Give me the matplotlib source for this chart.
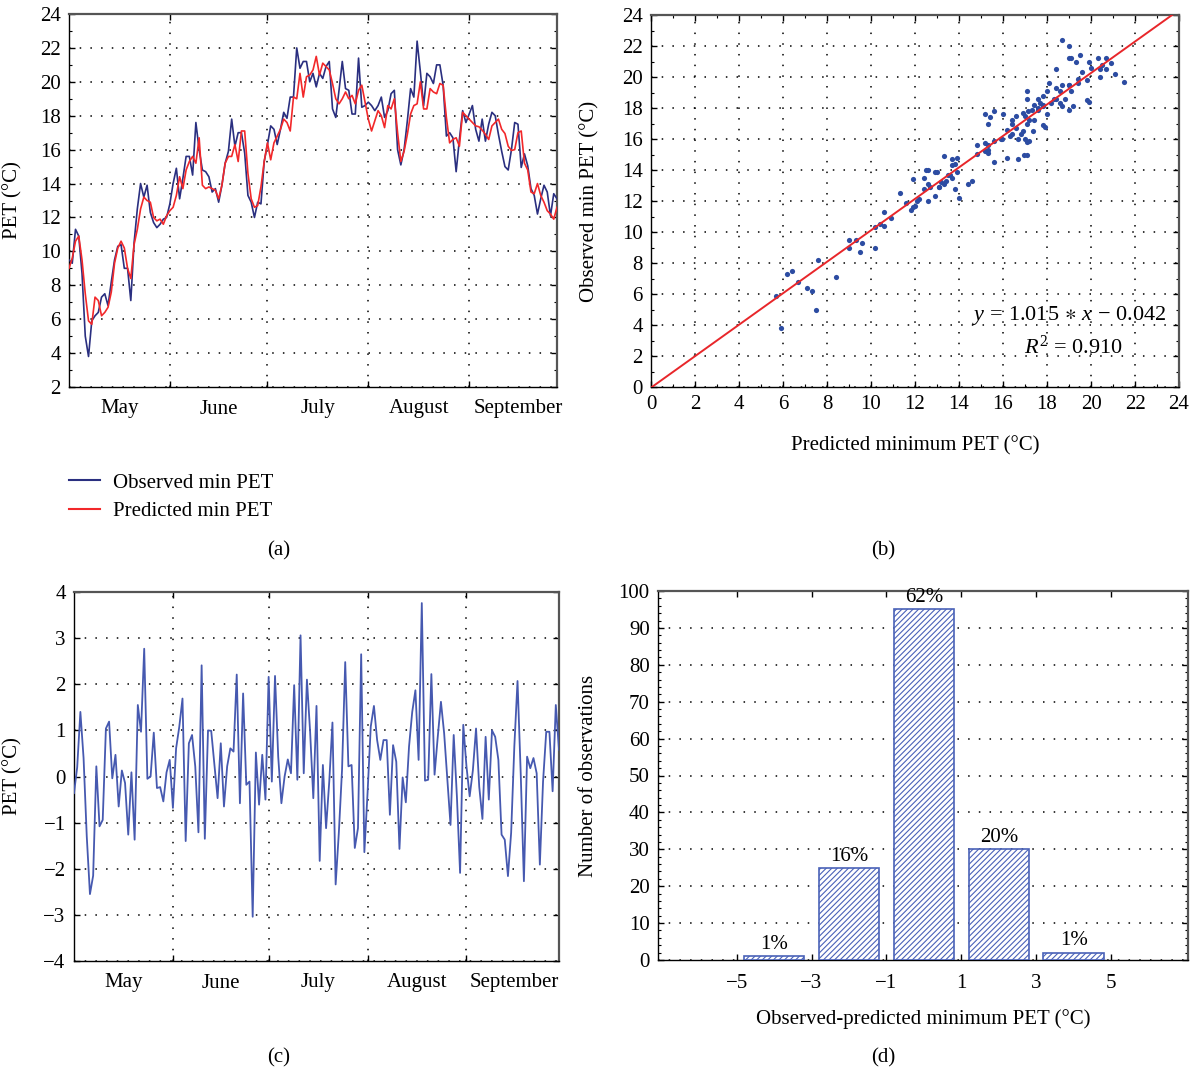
import numpy as np
import matplotlib
matplotlib.use("Agg")
import matplotlib.pyplot as plt
from matplotlib.lines import Line2D
from matplotlib.ticker import MultipleLocator, FixedLocator, NullFormatter, FixedFormatter

plt.rcParams['font.family'] = ['Liberation Serif', 'DejaVu Serif']
plt.rcParams['mathtext.fontset'] = 'custom'
plt.rcParams['mathtext.rm'] = 'Liberation Serif'
plt.rcParams['mathtext.it'] = 'Liberation Serif:italic'
plt.rcParams['mathtext.fallback'] = 'stix'
plt.rcParams['font.size'] = 15
plt.rcParams['hatch.linewidth'] = 0.8

# ---------------- data ----------------
months = ["May", "June", "July", "August", "September"]
month_starts = [0, 31, 61, 92, 123, 153]

observed = [9.5, 9.3, 11.3, 10.9, 8.7, 5.0, 3.8, 5.9, 6.2, 6.4,
            7.3, 7.5, 6.8, 8.2, 9.5, 10.3, 10.4, 9.0, 9.0, 7.1,
            10.5, 12.5, 14.0, 13.2, 13.9, 12.3, 11.7, 11.4, 11.6, 11.9,
            12.0, 12.8, 14.0, 14.9, 13.1, 14.3, 15.6, 15.6, 14.5, 17.6,
            16.0, 14.8, 14.7, 14.4, 13.5, 13.7, 12.9, 13.9, 15.2, 15.9,
            17.8, 16.2, 17.0, 17.0, 15.8, 13.3, 12.9, 12.0, 12.9, 12.8,
            15.3, 16.3, 17.4, 17.2, 16.3, 17.2, 18.2, 17.85, 19.1, 19.1,
            22.0, 20.8, 21.2, 21.2, 20.0, 20.5, 19.7, 20.5, 20.2, 20.9,
            21.2, 18.4, 17.9, 19.5, 21.2, 19.6, 19.5, 18.1, 18.1, 21.4,
            18.5, 18.6, 18.8, 18.6, 18.3, 18.6, 19.1, 17.9, 18.3, 19.3,
            19.5, 16.0, 15.1, 16.0, 17.7, 19.6, 19.1, 22.4, 20.6, 18.6,
            20.5, 20.3, 19.9, 21.0, 21.0, 19.8, 16.8, 17.0, 16.7, 14.7,
            16.6, 18.3, 17.6, 18.1, 18.6, 17.2, 16.5, 17.8, 16.5, 17.5,
            18.2, 18.0, 16.9, 15.9, 15.0, 14.8, 16.0, 17.6, 17.5, 14.95,
            15.75, 15.05, 13.7, 13.3, 12.2, 13.1, 13.9, 13.5, 12.1, 13.4,
            13.1]

predicted = [9.0, 9.6, 10.6, 10.9, 9.5, 7.5, 5.9, 5.7, 7.3, 7.1,
             6.2, 6.4, 6.7, 7.6, 9.3, 10.2, 10.6, 10.2, 9.0, 8.4,
             10.4, 11.3, 12.5, 13.2, 13.0, 12.9, 12.0, 11.8, 11.9, 11.6,
             12.1, 12.4, 12.6, 13.3, 14.4, 13.7, 14.8, 15.3, 15.6, 15.2,
             16.7, 13.9, 13.7, 13.8, 13.7, 13.6, 13.1, 13.9, 15.2, 15.6,
             15.6, 16.3, 15.3, 17.1, 17.1, 14.6, 13.1, 12.6, 12.7, 13.8,
             15.3, 16.4, 15.4, 16.4, 16.8, 17.2, 17.8, 17.6, 17.1, 19.1,
             19.0, 20.5, 19.1, 20.3, 20.4, 20.7, 21.5, 20.4, 21.1, 20.9,
             20.7, 19.9, 19.0, 18.7, 19.0, 19.4, 19.0, 19.2, 18.7, 19.5,
             19.8, 18.8, 17.8, 17.1, 17.7, 18.3, 18.0, 17.3, 18.6, 18.4,
             19.0, 17.0, 15.3, 15.9, 16.9, 18.1, 18.6, 18.7, 20.0, 18.4,
             18.4, 19.6, 19.4, 19.3, 19.9, 19.8, 17.9, 16.4, 16.6, 16.7,
             16.2, 18.2, 18.0, 17.8, 17.6, 17.4, 17.35, 17.15, 16.9, 16.6,
             17.4, 17.6, 17.8, 17.2, 16.95, 16.2, 15.95, 16.0, 17.0, 17.1,
             15.2, 14.8, 13.5, 13.4, 14.0, 13.3, 12.9, 12.4, 12.2, 11.9,
             12.6]

residual = [-0.36, 0.2, 1.4, 0.4, -1.3, -2.55, -2.15, 0.22, -1.08, -0.94,
            1.04, 1.19, -0.04, 0.47, -0.65, 0.13, -0.14, -1.26, 0.09, -1.37,
            1.55, 0.97, 2.77, -0.05, 0.0, 0.95, -0.25, -0.23, -0.54, 0.09,
            0.36, -0.68, 0.61, 1.08, 1.69, -1.4, 0.72, 0.9, 0.22, -1.21,
            2.41, -1.35, 1.0, 0.99, 0.25, -0.47, 0.72, -0.65, 0.22, 0.61,
            0.54, 2.21, -0.58, 1.8, -0.18, -0.11, -3.04, 0.52, -0.61, 0.47,
            -0.5, 2.16, -0.11, 2.18, 0.43, -0.58, 0.0, 0.37, 0.07, 1.98,
            -0.07, 3.06, 0.07, 2.1, 0.97, -0.47, 1.53, -1.83, 0.25, -1.12,
            -0.11, 1.17, -2.34, -1.22, 0.14, 2.48, 0.22, 0.25, -1.55, -1.12,
            2.65, -1.64, -0.36, 1.08, 1.53, 0.79, 0.36, 0.79, 0.79, -0.83,
            0.68, 0.32, -1.57, -0.02, -0.56, 0.65, 1.4, 1.87, 0.36, 3.76,
            -0.09, -0.07, 2.22, 0.04, 0.86, 1.62, 0.94, -0.07, -1.05, 0.9,
            -0.43, -2.09, 1.12, 0.22, -0.43, 0.13, 1.04, -0.22, -0.92, 0.86,
            -0.5, 1.0, 0.86, 0.36, -1.26, -1.37, -2.16, -1.22, 0.65, 2.07,
            0.07, -2.27, 0.43, 0.18, 0.4, 0.07, -1.91, -0.11, 0.97, 0.97,
            -0.32, 1.55, 0.58]

fit_slope = 1.015
fit_intercept = -0.042
fit_r2 = 0.910

bin_centers = [-4, -2, 0, 2, 4]
bin_counts = [1, 25, 95, 30, 2]
bin_pct = ["1%", "16%", "62%", "20%", "1%"]

# ---------------- styles ----------------
C_OBS = '#2a2f80'
C_PRED = '#f2282a'
C_RES = '#4659b0'
C_DOT = '#2c4ca2'
C_BAR = '#4a62b8'
GRID = dict(color='black', linestyle=(0, (1, 6)), linewidth=1.1)

W, H = 1198, 1072
fig = plt.figure(figsize=(W / 100, H / 100), dpi=100)


def style_spines(ax):
    for s in ['left', 'bottom']:
        ax.spines[s].set_color('black')
        ax.spines[s].set_linewidth(1.0)
    for s in ['top', 'right']:
        ax.spines[s].set_color('#555555')
        ax.spines[s].set_linewidth(1.6)
    ax.tick_params(which='both', direction='in', top=True, right=True)
    ax.tick_params(which='major', length=4, width=1.0, pad=6)
    ax.tick_params(which='minor', length=2.5, width=0.8)


def month_axis(ax, xmax):
    ax.set_xlim(0, xmax)
    ax.xaxis.set_major_locator(FixedLocator(month_starts[1:5]))
    ax.xaxis.set_major_formatter(NullFormatter())
    mids = [(month_starts[i] + month_starts[i + 1]) / 2 for i in range(5)]
    ax.xaxis.set_minor_locator(FixedLocator(mids))
    ax.xaxis.set_minor_formatter(FixedFormatter(months))
    ax.tick_params(axis='x', which='minor', length=0, pad=9)
    ax.tick_params(axis='y', which='minor', length=2.5)


# ---------------- (a) ----------------
axa = fig.add_axes([69 / W, 1 - 387 / H, 488 / W, 373 / H])
days = np.arange(len(observed))
axa.plot(days, observed, color=C_OBS, lw=1.2, zorder=3)
axa.plot(days, predicted, color=C_PRED, lw=1.2, zorder=3)
style_spines(axa)
month_axis(axa, 150)
axa.set_ylim(2, 24)
axa.yaxis.set_major_locator(MultipleLocator(2))
axa.yaxis.set_minor_locator(MultipleLocator(1))
axa.grid(True, which='major', **GRID)
axa.set_ylabel('PET (°C)')
axa.yaxis.set_label_coords(-0.096, 0.5)

handles = [Line2D([], [], color=C_OBS, lw=1.5), Line2D([], [], color=C_PRED, lw=1.5)]
fig.legend(handles, ['Observed min PET', 'Predicted min PET'], loc='upper left',
           bbox_to_anchor=(69 / W, 1 - 473 / H), frameon=False, handlelength=1.5,
           handletextpad=0.6, labelspacing=0.42, borderpad=0, borderaxespad=0)

# ---------------- (b) ----------------
axb = fig.add_axes([651 / W, 1 - 387 / H, 528 / W, 372 / H])
axb.scatter(predicted, observed, s=14, color=C_DOT, linewidths=0, zorder=3)
xx = np.array([0, 24])
axb.plot(xx, fit_slope * xx + fit_intercept, color='#e8262a', lw=1.4, zorder=4)
style_spines(axb)
axb.set_xlim(0, 24)
axb.set_ylim(0, 24)
axb.xaxis.set_major_locator(MultipleLocator(2))
axb.yaxis.set_major_locator(MultipleLocator(2))
axb.xaxis.set_minor_locator(MultipleLocator(1))
axb.yaxis.set_minor_locator(MultipleLocator(1))
axb.grid(True, which='major', **GRID)
axb.set_xlabel('Predicted minimum PET (°C)')
axb.xaxis.set_label_coords(0.5, -0.132)
axb.set_ylabel('Observed min PET (°C)')
axb.yaxis.set_label_coords(-0.097, 0.5)
axb.text(23.45, 4.6, r'$y\,=\,%.3f\,\ast\,x\,-\,%.3f$' % (fit_slope, -fit_intercept),
         ha='right', va='center', fontsize=16, zorder=5)
axb.text(19.2, 2.6, r'$R^2\,=\,%.3f$' % fit_r2, ha='center', va='center', fontsize=16, zorder=5)

# ---------------- (c) ----------------
axc = fig.add_axes([74 / W, 1 - 961 / H, 485 / W, 369 / H])
rdays = np.arange(len(residual))
axc.plot(rdays, residual, color=C_RES, lw=1.3, zorder=3)
style_spines(axc)
month_axis(axc, 152)
axc.set_ylim(-4, 4)
axc.yaxis.set_major_locator(MultipleLocator(1))
axc.yaxis.set_major_formatter(matplotlib.ticker.FuncFormatter(
    lambda v, p: ('−%d' % abs(v)) if v < 0 else '%d' % v))
axc.grid(True, which='major', **GRID)
axc.set_ylabel('PET (°C)')
axc.yaxis.set_label_coords(-0.107, 0.5)

# ---------------- (d) ----------------
axd = fig.add_axes([658 / W, 1 - 960 / H, 530 / W, 369 / H])
bars = axd.bar(bin_centers, bin_counts, width=1.62, facecolor='white', edgecolor=C_BAR,
               hatch='//////', linewidth=1.2, zorder=3)
for b in bars:
    b._hatch_color = matplotlib.colors.to_rgba(C_BAR)
for xc, cnt, lab in zip(bin_centers, bin_counts, bin_pct):
    axd.text(xc, cnt + 0.6, lab, ha='center', va='bottom', fontsize=15, zorder=4)
style_spines(axd)
axd.set_xlim(-7.1, 7.05)
axd.set_ylim(0, 100)
axd.set_xticks([-5, -3, -1, 1, 3, 5])
axd.set_xticklabels(['−5', '−3', '−1', '1', '3', '5'])
axd.yaxis.set_major_locator(MultipleLocator(10))
axd.yaxis.set_minor_locator(MultipleLocator(2))
axd.grid(True, which='major', axis='y', **GRID)
axd.tick_params(axis='x', pad=10)
axd.set_xlabel('Observed-predicted minimum PET (°C)')
axd.xaxis.set_label_coords(0.5, -0.133)
axd.set_ylabel('Number of observations')
axd.yaxis.set_label_coords(-0.113, 0.5)

# ---------------- captions ----------------
fig.text(279 / W, 1 - 551 / H, '(a)', ha='center', va='center', fontsize=15)
fig.text(883 / W, 1 - 551 / H, '(b)', ha='center', va='center', fontsize=15)
fig.text(279 / W, 1 - 1058 / H, '(c)', ha='center', va='center', fontsize=15)
fig.text(883 / W, 1 - 1058 / H, '(d)', ha='center', va='center', fontsize=15)

fig.savefig('out.png', dpi=100)
